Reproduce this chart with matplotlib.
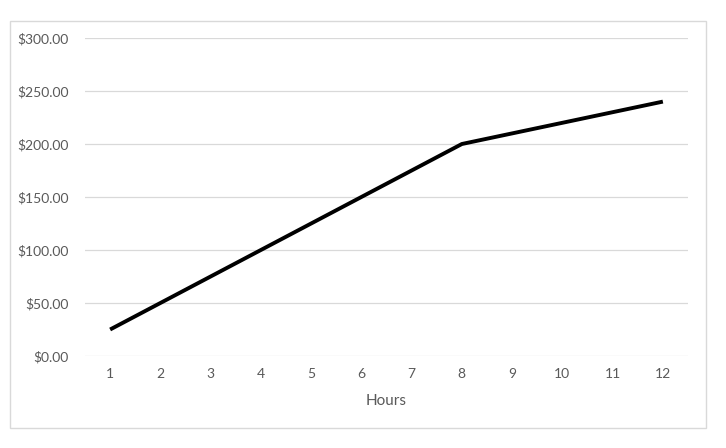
import matplotlib
matplotlib.use("Agg")
import matplotlib.pyplot as plt
from matplotlib.patches import Rectangle

hours = [1, 2, 3, 4, 5, 6, 7, 8, 9, 10, 11, 12]
cost = [25, 50, 75, 100, 125, 150, 175, 200, 210, 220, 230, 240]
yticks = [0, 50, 100, 150, 200, 250, 300]
ytick_labels = ["$0.00", "$50.00", "$100.00", "$150.00", "$200.00", "$250.00", "$300.00"]
xlabel = "Hours"

plt.rcParams['font.family'] = ['Lato', 'DejaVu Sans']
W, H = 726, 448
fig = plt.figure(figsize=(W / 100, H / 100), dpi=100)
fig.patches.append(Rectangle((10 / W, 1 - 428 / H), 696 / W, 407 / H, transform=fig.transFigure,
                             fill=False, edgecolor='#d9d9d9', linewidth=1))
ax = fig.add_axes([85 / W, 1 - 356 / H, 603 / W, 318 / H])
ax.plot(hours, cost, color='black', linewidth=2.8, solid_capstyle='butt')
ax.set_xlim(0.5, 12.5)
ax.set_ylim(0, 300)
ax.set_yticks(yticks)
ax.set_yticklabels(ytick_labels)
ax.set_xticks(hours)
ax.set_xticklabels([str(h) for h in hours])
ax.grid(axis='y', color='#d9d9d9', linewidth=0.9)
ax.set_axisbelow(True)
for s in ax.spines.values():
    s.set_visible(False)
ax.tick_params(length=0, colors='#595959', labelsize=10)
ax.tick_params(axis='y', pad=12)
ax.tick_params(axis='x', pad=9)
ax.set_xlabel(xlabel, color='#595959', fontsize=11, labelpad=10)
fig.savefig("out.png", dpi=100)
